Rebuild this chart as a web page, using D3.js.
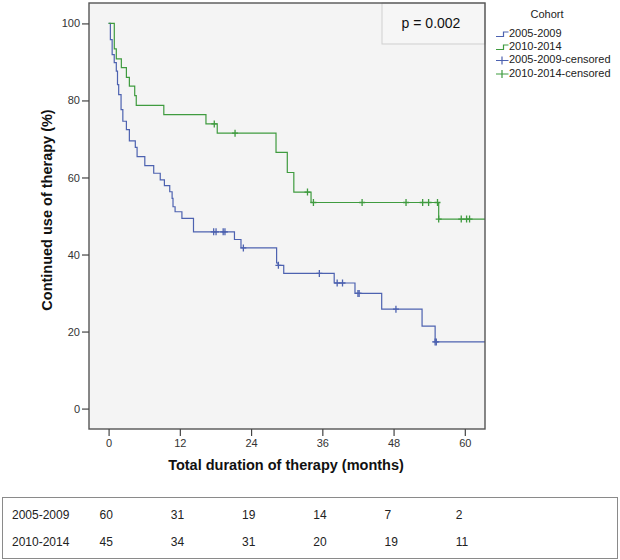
<!DOCTYPE html>
<html>
<head>
<meta charset="utf-8">
<script src="https://cdn.jsdelivr.net/npm/d3@7"></script>
<style>
  html, body { margin: 0; padding: 0; background: #ffffff; }
  svg { display: block; font-family: "Liberation Sans", Arial, sans-serif; }
</style>
</head>
<body>
<svg id="chart" width="620" height="560"></svg>
<script>
// ---------------- DATA ----------------
const cohorts = ["2005-2009", "2010-2014"];
const legendLabels = ["2005-2009", "2010-2014", "2005-2009-censored", "2010-2014-censored"];

// Cohort 2005-2009: event times (months) and survival (%) after each drop
const blueTimes = [0, 0.3, 0.6, 0.95, 1.3, 1.5, 1.7, 2.1, 2.4, 3.0, 3.5, 4.5, 4.8, 6.1, 7.6, 8.7, 9.4, 10.3, 10.7, 10.85, 11.2, 12.35, 14.3, 21.2, 22.3, 28.3, 28.55, 29.5, 38.0, 41.5, 46.0, 52.8, 55.0];
const blueSurv  = [100, 95.8, 91.9, 89.8, 87.6, 84.1, 81.5, 77.6, 74.6, 72.4, 69.5, 67.8, 65.4, 63.1, 61.1, 59.4, 57.9, 56.3, 54.6, 52.4, 51.1, 49.4, 45.9, 43.9, 41.7, 37.8, 37.2, 35.1, 32.6, 29.9, 25.8, 21.4, 17.3];
const blueCensor = [17.7, 18.1, 19.3, 19.6, 22.7, 28.6, 35.5, 38.5, 39.4, 42.0, 42.2, 48.4, 55.0, 55.2];

// Cohort 2010-2014
const greenTimes = [0, 0.96, 1.3, 2.15, 3.0, 3.5, 4.4, 4.66, 9.3, 16.4, 18.3, 28.2, 30.1, 31.2, 34.1, 55.6];
const greenSurv  = [100, 93.4, 90.8, 88.5, 86.0, 83.7, 81.25, 78.7, 76.3, 73.9, 71.5, 66.5, 61.3, 56.2, 53.5, 49.2];
const greenCensor = [17.8, 21.3, 33.5, 34.5, 42.7, 50.1, 52.9, 53.9, 55.4, 55.6, 59.4, 60.3, 60.8];

const xTicks = [0, 12, 24, 36, 48, 60];
const yTicks = [0, 20, 40, 60, 80, 100];

// Numbers at risk
const riskTimes = [0, 12, 24, 36, 48, 60];
const riskBlue  = [60, 31, 19, 14, 7, 2];
const riskGreen = [45, 34, 31, 20, 19, 11];

const pText = "p = 0.002";

// ---------------- LAYOUT ----------------
const colors = ["#4d62b0", "#3f9b3f"];
const frame = { left: 89, right: 485, top: 3, bottom: 429 };

const x = d3.scaleLinear().domain([-3.3, 63.4]).range([frame.left, frame.right]);
const y = d3.scaleLinear().domain([-5.3, 105.3]).range([frame.bottom, frame.top]);

const svg = d3.select("#chart");

// plot background
svg.append("rect")
  .attr("x", frame.left).attr("y", frame.top)
  .attr("width", frame.right - frame.left).attr("height", frame.bottom - frame.top)
  .attr("fill", "#f4f4f4");

svg.append("clipPath").attr("id", "clip")
  .append("rect")
  .attr("x", frame.left).attr("y", frame.top)
  .attr("width", frame.right - frame.left).attr("height", frame.bottom - frame.top);

// p-value box
svg.append("rect")
  .attr("x", 382).attr("y", frame.top)
  .attr("width", frame.right - 382).attr("height", 44 - frame.top)
  .attr("fill", "#f6f6f6").attr("stroke", "#cfcfcf").attr("stroke-width", 1);
svg.append("text")
  .attr("x", 431).attr("y", 24)
  .attr("text-anchor", "middle").attr("dominant-baseline", "middle")
  .attr("font-size", 14).attr("fill", "#111")
  .text(pText);

// survival curves
function survAt(times, surv, t) {
  let s = surv[0];
  for (let i = 0; i < times.length; i++) if (times[i] <= t) s = surv[i];
  return s;
}
const series = [
  { times: blueTimes, surv: blueSurv, censor: blueCensor, color: colors[0] },
  { times: greenTimes, surv: greenSurv, censor: greenCensor, color: colors[1] }
];
const line = d3.line().x(d => x(d[0])).y(d => y(d[1])).curve(d3.curveStepAfter);
const g = svg.append("g").attr("clip-path", "url(#clip)");
series.forEach(s => {
  const pts = s.times.map((t, i) => [t, s.surv[i]]);
  pts.push([x.domain()[1] + 1, s.surv[s.surv.length - 1]]);
  g.append("path").datum(pts)
    .attr("d", line).attr("fill", "none")
    .attr("stroke", s.color).attr("stroke-width", 1.2);
});
series.forEach(s => {
  s.censor.forEach(t => {
    const cx = x(t), cy = y(survAt(s.times, s.surv, t));
    g.append("path")
      .attr("d", `M${cx},${cy - 3.5}V${cy + 3.5}M${cx - 3},${cy}H${cx + 3}`)
      .attr("stroke", s.color).attr("stroke-width", 1.3).attr("fill", "none");
  });
});

// frame
svg.append("rect")
  .attr("x", frame.left).attr("y", frame.top)
  .attr("width", frame.right - frame.left).attr("height", frame.bottom - frame.top)
  .attr("fill", "none").attr("stroke", "#555").attr("stroke-width", 1.4);

// y axis
const yAxis = svg.append("g").attr("transform", `translate(${frame.left},0)`)
  .call(d3.axisLeft(y).tickValues(yTicks).tickSize(7).tickPadding(2));
yAxis.select(".domain").remove();
yAxis.selectAll("line").attr("stroke", "#444").attr("stroke-width", 1.2);
yAxis.selectAll("text").attr("font-size", 11).attr("fill", "#333").attr("font-family", "Liberation Sans, Arial, sans-serif");

// x axis
const xAxis = svg.append("g").attr("transform", `translate(0,${frame.bottom})`)
  .call(d3.axisBottom(x).tickValues(xTicks).tickSize(7).tickPadding(3));
xAxis.select(".domain").remove();
xAxis.selectAll("line").attr("stroke", "#444").attr("stroke-width", 1.2);
xAxis.selectAll("text").attr("font-size", 11).attr("fill", "#333").attr("font-family", "Liberation Sans, Arial, sans-serif");

// axis titles
svg.append("text")
  .attr("transform", `translate(48,210) rotate(-90)`)
  .attr("text-anchor", "middle").attr("dominant-baseline", "middle")
  .attr("font-size", 14.5).attr("font-weight", "bold").attr("fill", "#111")
  .text("Continued use of therapy (%)");
svg.append("text")
  .attr("x", 286).attr("y", 466)
  .attr("text-anchor", "middle").attr("dominant-baseline", "middle")
  .attr("font-size", 14.5).attr("font-weight", "bold").attr("fill", "#111")
  .text("Total duration of therapy (months)");

// legend
svg.append("text").attr("x", 547).attr("y", 15)
  .attr("text-anchor", "middle").attr("dominant-baseline", "middle")
  .attr("font-size", 11).attr("fill", "#222").text("Cohort");
const legendY = [34, 47, 60.5, 74];
legendLabels.forEach((lab, i) => {
  const ly = legendY[i];
  const col = colors[i % 2];
  if (i < 2) {
    svg.append("path")
      .attr("d", `M496,${ly + 2.5}H503.5V${ly - 2}H508.5`)
      .attr("fill", "none").attr("stroke", col).attr("stroke-width", 1.2);
  } else {
    svg.append("path")
      .attr("d", `M496,${ly}H508.5M502,${ly - 4}V${ly + 4}`)
      .attr("fill", "none").attr("stroke", col).attr("stroke-width", 1.2);
  }
  svg.append("text").attr("x", 509).attr("y", ly)
    .attr("dominant-baseline", "middle")
    .attr("font-size", 11).attr("fill", "#222").text(lab);
});

// risk table
svg.append("rect")
  .attr("x", 2.5).attr("y", 497.5).attr("width", 615).attr("height", 61)
  .attr("fill", "#fff").attr("stroke", "#8a8a8a").attr("stroke-width", 1);
const riskRows = [riskBlue, riskGreen];
const rowY = [516, 543];
riskRows.forEach((row, r) => {
  svg.append("text").attr("x", 12).attr("y", rowY[r])
    .attr("dominant-baseline", "middle").attr("font-size", 12).attr("fill", "#222")
    .text(cohorts[r]);
  row.forEach((v, i) => {
    svg.append("text").attr("x", x(riskTimes[i]) - 9).attr("y", rowY[r])
      .attr("dominant-baseline", "middle").attr("font-size", 12).attr("fill", "#222")
      .text(v);
  });
});
</script>
</body>
</html>
